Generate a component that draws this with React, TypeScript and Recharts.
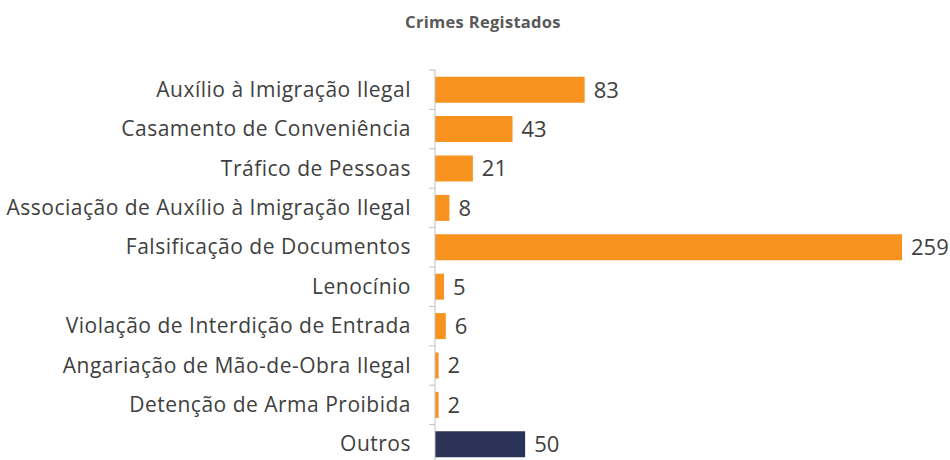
import { Bar, BarChart, Cell, LabelList, XAxis, YAxis } from "recharts";

const categories = [
  "Auxílio à Imigração Ilegal",
  "Casamento de Conveniência",
  "Tráfico de Pessoas",
  "Associação de Auxílio à Imigração Ilegal",
  "Falsificação de Documentos",
  "Lenocínio",
  "Violação de Interdição de Entrada",
  "Angariação de Mão-de-Obra Ilegal",
  "Detenção de Arma Proibida",
  "Outros",
];
const values = [83, 43, 21, 8, 259, 5, 6, 2, 2, 50];
const barColors = ["#F7931E", "#F7931E", "#F7931E", "#F7931E", "#F7931E", "#F7931E", "#F7931E", "#F7931E", "#F7931E", "#2B3457"];

const data = categories.map((name, i) => ({ name, value: values[i], color: barColors[i] }));

const FONT = "'Open Sans', sans-serif";
const BAND = 39.4;

function CategoryTick(props: any) {
  const { x, y, payload } = props;
  return (
    <g>
      <line x1={x + 2} x2={x + 8} y1={y - BAND / 2} y2={y - BAND / 2} stroke="#BFBFBF" strokeWidth={1} />
      <text
        x={x - 16}
        y={y}
        dy={7}
        textAnchor="end"
        fill="#404040"
        fontSize={21}
        letterSpacing={0.5}
        fontFamily={FONT}
      >
        {payload.value}
      </text>
    </g>
  );
}

export default function App() {
  return (
    <div style={{ width: 950, height: 460, position: "relative", background: "#fff", overflow: "hidden" }}>
      <style>{"body{margin:0}"}</style>
      <div
        style={{
          position: "absolute",
          top: 10,
          left: 0,
          width: 966,
          textAlign: "center",
          fontFamily: FONT,
          fontWeight: 700,
          fontSize: 16.5,
          letterSpacing: 0.3,
          color: "#595959",
        }}
      >
        Crimes Registados
      </div>
      <BarChart
        width={950}
        height={464}
        data={data}
        layout="vertical"
        margin={{ top: 70, right: 48, left: 0, bottom: 0 }}
        barCategoryGap={6.7}
      >
        <XAxis type="number" domain={[0, 259]} hide />
        <YAxis
          type="category"
          dataKey="name"
          width={435}
          axisLine={{ stroke: "#BFBFBF" }}
          tickLine={false}
          tick={<CategoryTick />}
          interval={0}
        />
        <Bar dataKey="value" isAnimationActive={false}>
          {data.map((d, i) => (
            <Cell key={i} fill={d.color} />
          ))}
          <LabelList
            dataKey="value"
            position="right"
            offset={9}
            fill="#404040"
            fontSize={22}
            fontFamily={FONT}
          />
        </Bar>
      </BarChart>
    </div>
  );
}
